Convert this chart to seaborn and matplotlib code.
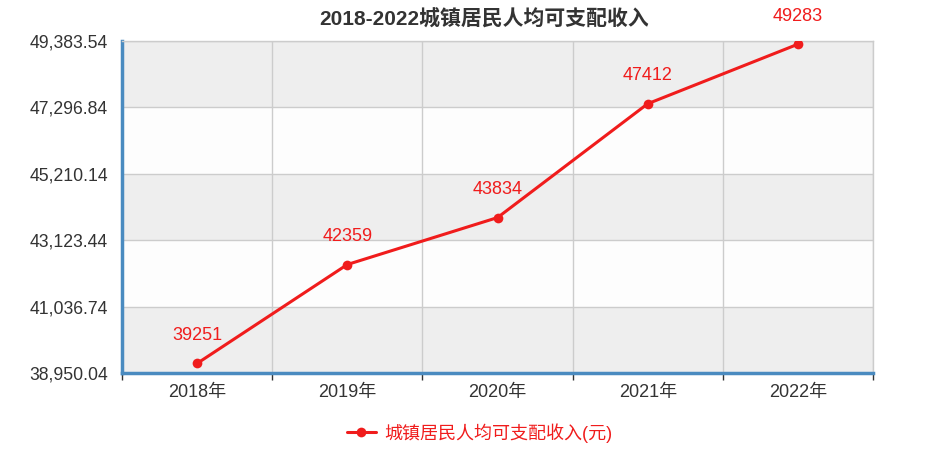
import matplotlib
matplotlib.use("Agg")
import numpy as np
import pandas as pd
import matplotlib.pyplot as plt
import seaborn as sns

# data
years = ["2018年", "2019年", "2020年", "2021年", "2022年"]
income = [39251, 42359, 43834, 47412, 49283]
y_ticks = [38950.04, 41036.74, 43123.44, 45210.14, 47296.84, 49383.54]
title = "2018-2022城镇居民人均可支配收入"
series_name = "城镇居民人均可支配收入(元)"

red = "#f01c1c"
blue = "#4a8bc0"
text_col = "#333333"
grid_col = "#cccccc"

sns.set_theme(style="white")
plt.rcParams['font.family'] = ['Liberation Sans', 'Noto Sans CJK SC', 'DejaVu Sans']

df = pd.DataFrame({"year": years, "income": income})

fig = plt.figure(figsize=(9.26, 4.59), dpi=100)
ax = fig.add_axes([0.1318, 0.1874, 0.811, 0.7233])

sns.lineplot(data=df, x="year", y="income", sort=False, color=red, lw=2.2,
             marker="o", markersize=7, markeredgewidth=0, label=series_name,
             ax=ax, zorder=3)

ax.set_xlim(-0.5, len(years) - 0.5)
ax.set_ylim(y_ticks[0], y_ticks[-1])

# alternating bands
for i in range(len(y_ticks) - 1):
    ax.axhspan(y_ticks[i], y_ticks[i + 1], color="#eeeeee" if i % 2 == 0 else "#fdfdfd",
               zorder=0, lw=0)

ax.set_yticks(y_ticks)
ax.set_yticklabels([f"{t:,.2f}" for t in y_ticks])
ax.set_xticks(range(len(years)))
ax.set_xticklabels(years)
ax.set_xticks(np.arange(-0.5, len(years), 1), minor=True)

ax.set_axisbelow(True)
ax.yaxis.grid(True, color=grid_col, lw=1)
ax.xaxis.grid(True, which="minor", color=grid_col, lw=1)
ax.xaxis.grid(False, which="major")

ax.tick_params(axis="y", length=0, pad=10, labelsize=12.7, labelcolor=text_col)
ax.tick_params(axis="x", which="major", length=0, pad=8, labelsize=13, labelcolor=text_col)
ax.tick_params(axis="x", which="minor", length=5, width=1, color=text_col, direction="out", bottom=True)

for side in ["left", "bottom"]:
    ax.spines[side].set_color(blue)
    ax.spines[side].set_linewidth(2.5)
for side in ["top", "right"]:
    ax.spines[side].set_color(grid_col)
    ax.spines[side].set_linewidth(1)

ax.set_xlabel("")
ax.set_ylabel("")

for i, v in enumerate(income):
    ax.annotate(str(v), (i, v), xytext=(0, 20), textcoords="offset points",
                ha="center", va="center", color=red, fontsize=13,
                annotation_clip=False)

fig.text(0.523, 0.958, title, ha="center", va="center", fontsize=15,
         fontweight="bold", color=text_col)

handles, labels = ax.get_legend_handles_labels()
ax.legend_.remove()
fig.legend(handles, labels, loc="center", bbox_to_anchor=(0.518, 0.057),
           frameon=False, labelcolor=red, fontsize=13, handlelength=1.6,
           handletextpad=0.5)

fig.savefig("out.png", dpi=100)
